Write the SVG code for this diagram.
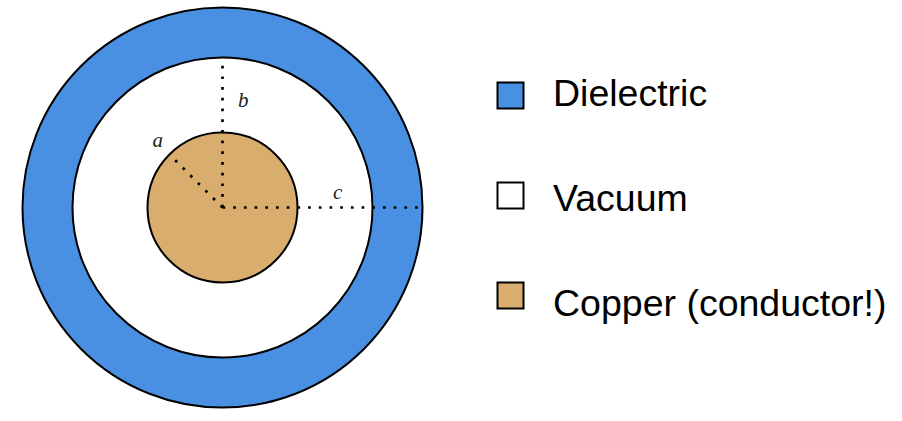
<svg xmlns="http://www.w3.org/2000/svg" width="902" height="421" viewBox="0 0 902 421">
<style>
.ring{stroke:#000;stroke-width:2}
.dot{fill:none;stroke:#000;stroke-width:2.7;stroke-dasharray:2.7 8}
.lbl{font-family:"Liberation Serif",serif;font-style:italic;font-size:21px;fill:#222}
.leg{font-family:"Liberation Sans",Arial,sans-serif;font-size:37.5px;fill:#000}
.sw{stroke:#000;stroke-width:2}
</style>
<rect width="902" height="421" fill="#fff"/>
<g id="dielectric"><circle class="ring" cx="222.5" cy="207.5" r="200" fill="#4A90E2"/></g>
<g id="vacuum"><circle class="ring" cx="222.5" cy="207.5" r="150" fill="#fff"/></g>
<g id="copper"><circle class="ring" cx="222.5" cy="207.5" r="75" fill="#D8AD6E"/></g>
<g id="connectors">
<line class="dot" x1="222.5" y1="207.5" x2="222.5" y2="57.5"/>
<line class="dot" x1="222.5" y1="207.5" x2="422" y2="207.5"/>
<line class="dot" x1="222.5" y1="207.5" x2="169.5" y2="154.5"/>
</g>
<g id="labels">
<text class="lbl" x="152.5" y="147">a</text>
<text class="lbl" x="238" y="106.5">b</text>
<text class="lbl" x="333" y="198.5">c</text>
</g>
<g id="legend-dielectric">
<rect class="sw" x="497.5" y="82.5" width="26" height="26" fill="#4A90E2"/>
<text class="leg" x="553" y="106">Dielectric</text>
</g>
<g id="legend-vacuum">
<rect class="sw" x="497.5" y="182.5" width="26" height="26" fill="#fff"/>
<text class="leg" x="553" y="211">Vacuum</text>
</g>
<g id="legend-copper">
<rect class="sw" x="497.5" y="282.5" width="26" height="26" fill="#D8AD6E"/>
<text class="leg" x="553" y="316">Copper (conductor!)</text>
</g>
</svg>
